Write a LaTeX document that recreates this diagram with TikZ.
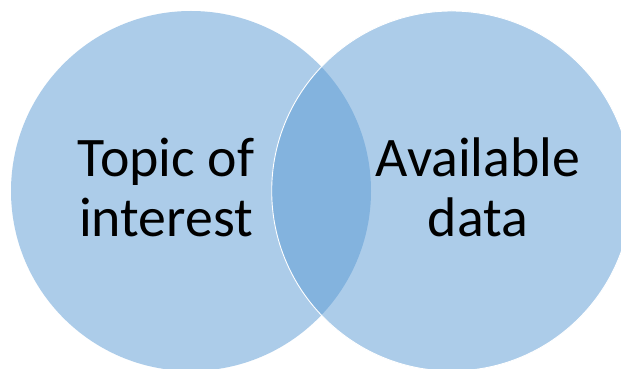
\documentclass[tikz,border=0pt]{standalone}
\usepackage{fontspec}
\setmainfont{Carlito}
\definecolor{vennblue}{HTML}{5B9BD5}
\begin{document}
\begin{tikzpicture}[x=1pt,y=1pt,
  setcircle/.style={fill=vennblue,fill opacity=0.5,draw=none},
  vlabel/.style={font=\fontsize{55.8}{60.3}\selectfont,align=center,anchor=base,inner sep=0pt,text=black}]
\useasboundingbox (0,0) rectangle (621,369);
\fill[white] (0,0) rectangle (621,369);
\path[setcircle] (191,178) circle[radius=180];
\path[setcircle] (451.7,178) circle[radius=180];
\draw[white,line width=0.9pt] (451.7,178) circle[radius=180];
\node[vlabel] (topic) at (166,132) {Topic of\\interest};
\node[vlabel] (avail) at (478,132) {Available\\data};
\end{tikzpicture}
\end{document}
